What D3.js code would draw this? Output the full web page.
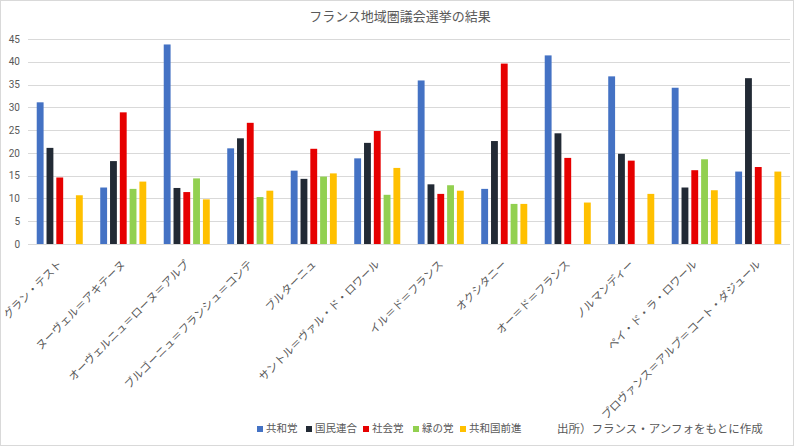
<!DOCTYPE html>
<html>
<head>
<meta charset="utf-8">
<script src="https://cdn.jsdelivr.net/npm/d3@7/dist/d3.min.js"></script>
<style>
  body { margin: 0; background: #fff; }
  svg text { font-family: "Noto Sans CJK JP", "Noto Sans", sans-serif; fill: #595959; }
</style>
</head>
<body>
<svg id="chart" width="800" height="447"></svg>
<script>
var regions = ["グラン・テスト", "ヌーヴェル＝アキテーヌ", "オーヴェルニュ＝ローヌ＝アルプ",
    "ブルゴーニュ＝フランシュ＝コンテ", "ブルターニュ", "サントル＝ヴァル・ド・ロワール",
    "イル＝ド＝フランス", "オクシタニー", "オー＝ド＝フランス", "ノルマンディー",
    "ペイ・ド・ラ・ロワール", "プロヴァンス＝アルプ＝コート・ダジュール"];
var parties = ["共和党", "国民連合", "社会党", "緑の党", "共和国前進"];
var colors = ["#4472C4", "#222A35", "#E60000", "#92D050", "#FFC000"];

// percentages, one array per party (null = no list)
var lr   = [31.1, 12.4, 43.8, 21.0, 16.1, 18.8, 35.9, 12.1, 41.4, 36.8, 34.3, 15.9];
var rn   = [21.1, 18.2, 12.3, 23.2, 14.3, 22.2, 13.1, 22.6, 24.3, 19.8, 12.4, 36.4];
var ps   = [14.6, 28.9, 11.4, 26.6, 20.9, 24.8, 11.0, 39.6, 18.9, 18.3, 16.2, 16.9];
var eelv = [null, 12.1, 14.4, 10.3, 14.8, 10.8, 12.9, 8.8, null, null, 18.6, null];
var lrem = [10.7, 13.7, 9.8, 11.7, 15.5, 16.7, 11.7, 8.8, 9.1, 11.0, 11.8, 15.9];
var series = [lr, rn, ps, eelv, lrem];
var yTicks = [0, 5, 10, 15, 20, 25, 30, 35, 40, 45];

var svg = d3.select("#chart");
var plotLeft = 28, plotRight = 790, plotTop = 39, plotBottom = 244;

// chart border
svg.append("rect")
    .attr("x", 0.5).attr("y", 0.5)
    .attr("width", 793).attr("height", 445)
    .attr("fill", "none").attr("stroke", "#d9d9d9");

var x0 = d3.scaleBand().domain(d3.range(regions.length))
    .range([plotLeft, plotRight]).paddingInner(0.275).paddingOuter(0.1375);
var x1 = d3.scaleBand().domain(d3.range(parties.length))
    .range([0, x0.bandwidth()]).paddingInner(0.3).paddingOuter(0);
var y = d3.scaleLinear().domain([0, 45]).range([plotBottom, plotTop]);

// gridlines
svg.append("g").selectAll("line").data(yTicks).join("line")
    .attr("x1", plotLeft).attr("x2", plotRight)
    .attr("y1", function(d) { return Math.round(y(d)) + 0.5; })
    .attr("y2", function(d) { return Math.round(y(d)) + 0.5; })
    .attr("stroke", "#d9d9d9").attr("stroke-width", 1);

var yAxis = svg.append("g")
    .attr("transform", "translate(" + (plotLeft - 8) + ",0)")
    .call(d3.axisLeft(y).tickValues(yTicks).tickSize(0).tickPadding(0));
yAxis.select(".domain").remove();
yAxis.selectAll("text").style("font-size", "10px").style("font-family", "Roboto, sans-serif").attr("fill", "#595959");

// bars
series.forEach(function(vals, s) {
    svg.append("g").selectAll("rect")
        .data(vals.map(function(v, i) { return { i: i, v: v }; }).filter(function(d) { return d.v != null; }))
        .join("rect")
        .attr("x", function(d) { return x0(d.i) + x1(s); })
        .attr("width", x1.bandwidth())
        .attr("y", function(d) { return y(d.v); })
        .attr("height", function(d) { return y(0) - y(d.v); })
        .attr("fill", colors[s]);
});

// category labels, rotated
svg.append("g").selectAll("text").data(regions).join("text")
    .attr("transform", function(d, i) {
        return "translate(" + (x0(i) + x0.bandwidth() / 2 + 3) + "," + 265 + ") rotate(-45)";
    })
    .attr("text-anchor", "end")
    .style("font-size", "11px")
    .text(function(d) { return d; });

// title
svg.append("text")
    .attr("x", 400).attr("y", 21)
    .attr("text-anchor", "middle")
    .style("font-size", "13px")
    .text("フランス地域圏議会選挙の結果");

// legend
var legendX = [257, 306, 363, 413, 460];
var lg = svg.append("g").selectAll("g").data(parties).join("g")
    .attr("transform", function(d, i) { return "translate(" + legendX[i] + ",432)"; });
lg.append("rect").attr("x", 0).attr("y", -6).attr("width", 6).attr("height", 6)
    .attr("fill", function(d, i) { return colors[i]; });
lg.append("text").attr("x", 9).attr("y", 0)
    .style("font-size", "10.5px")
    .text(function(d) { return d; });

svg.append("text")
    .attr("x", 557).attr("y", 433)
    .style("font-size", "11.5px")
    .attr("fill", "#404040")
    .text("出所）フランス・アンフォをもとに作成");
</script>
</body>
</html>
